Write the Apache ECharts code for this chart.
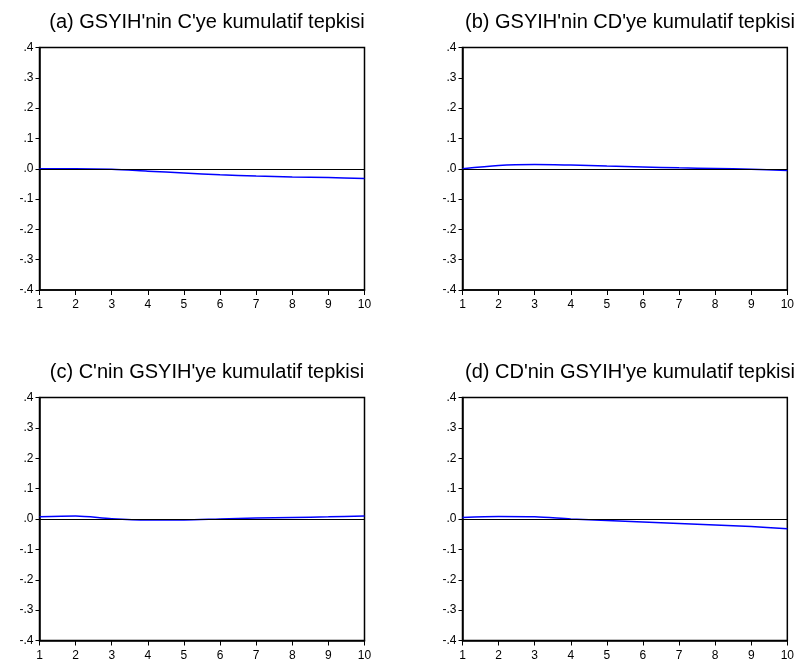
<!DOCTYPE html>
<html>
<head>
<meta charset="utf-8">
<script src="https://cdn.jsdelivr.net/npm/echarts@6/dist/echarts.min.js"></script>
<style>
  html, body { margin: 0; padding: 0; background: #fff; }
  #chart { width: 797px; height: 662px; }
</style>
</head>
<body>
<div id="chart"></div>
<script>
// Horizon (periods) and y-axis tick values
const periods = ['1', '2', '3', '4', '5', '6', '7', '8', '9', '10'];
const yTicks = [-0.4, -0.3, -0.2, -0.1, 0.0, 0.1, 0.2, 0.3, 0.4];

// Panel titles
const titles = [
  "(a) GSYIH'nin C'ye kumulatif tepkisi",
  "(b) GSYIH'nin CD'ye kumulatif tepkisi",
  "(c) C'nin GSYIH'ye kumulatif tepkisi",
  "(d) CD'nin GSYIH'ye kumulatif tepkisi"
];

// Accumulated responses, one array per panel
const respA = [0.000, 0.000, -0.002, -0.008, -0.014, -0.020, -0.024, -0.027, -0.029, -0.032];
const respB = [0.000, 0.011, 0.014, 0.012, 0.009, 0.006, 0.003, 0.001, -0.002, -0.006];
const respC = [0.007, 0.010, 0.001, -0.003, -0.003, 0.000, 0.003, 0.005, 0.007, 0.010];
const respD = [0.005, 0.008, 0.007, 0.000, -0.005, -0.010, -0.015, -0.020, -0.025, -0.032];
const responses = [respA, respB, respC, respD];

// Plot-area geometry for the 2x2 layout
const grids = [
  { left: 39.5, top: 47.5, width: 325, height: 242.5 },
  { left: 462.5, top: 47.5, width: 325, height: 242.5 },
  { left: 39.5, top: 397.5, width: 325, height: 243 },
  { left: 462.5, top: 397.5, width: 325, height: 243 }
];

const FONT = '"Liberation Sans", Arial, sans-serif';

function fmtY(v) {
  const r = Math.round(v * 10) / 10;
  const s = Math.abs(r).toFixed(1).replace(/^0/, '');
  return (r < 0 ? '-' : '') + s;
}

const option = {
  backgroundColor: '#fff',
  animation: false,
  title: titles.map((t, i) => ({
    text: t,
    left: grids[i].left + grids[i].width / 2,
    top: i < 2 ? 7 : 357,
    textAlign: 'center',
    textStyle: { fontFamily: FONT, fontSize: 20, fontWeight: 'normal', color: '#000' }
  })),
  grid: grids.map(g => ({
    left: g.left, top: g.top, width: g.width, height: g.height,
    show: true, borderColor: '#000', borderWidth: 1.5, backgroundColor: '#fff',
    containLabel: false
  })),
  xAxis: grids.map((g, i) => ({
    type: 'category',
    gridIndex: i,
    data: periods,
    boundaryGap: false,
    axisLine: { show: true, onZero: false, lineStyle: { color: '#000', width: 1.5 } },
    axisTick: { show: true, inside: false, length: 5, alignWithLabel: true, lineStyle: { color: '#000', width: 1 } },
    axisLabel: { show: true, interval: 0, margin: 9, fontFamily: FONT, fontSize: 12, color: '#000' },
    splitLine: { show: false }
  })),
  yAxis: grids.map((g, i) => ({
    type: 'value',
    gridIndex: i,
    min: yTicks[0],
    max: yTicks[yTicks.length - 1],
    interval: 0.1,
    axisLine: { show: true, onZero: false, lineStyle: { color: '#000', width: 1.5 } },
    axisTick: { show: true, inside: false, length: 4, lineStyle: { color: '#000', width: 1 } },
    axisLabel: {
      show: true, margin: 6, fontFamily: FONT, fontSize: 12, color: '#000',
      verticalAlign: 'middle', padding: [0, 0, 5, 0],
      formatter: fmtY
    },
    splitLine: { show: false }
  })),
  series: responses.map((d, i) => ({
    type: 'line',
    xAxisIndex: i,
    yAxisIndex: i,
    data: d,
    smooth: 0.3,
    symbol: 'none',
    lineStyle: { color: '#0000ff', width: 1.5 },
    markLine: {
      silent: true,
      symbol: 'none',
      label: { show: false },
      lineStyle: { color: '#000', width: 1, type: 'solid' },
      data: [{ yAxis: 0 }]
    },
    z: 3
  }))
};

const chart = echarts.init(document.getElementById('chart'), null, { renderer: 'canvas' });
chart.setOption(option);
</script>
</body>
</html>
